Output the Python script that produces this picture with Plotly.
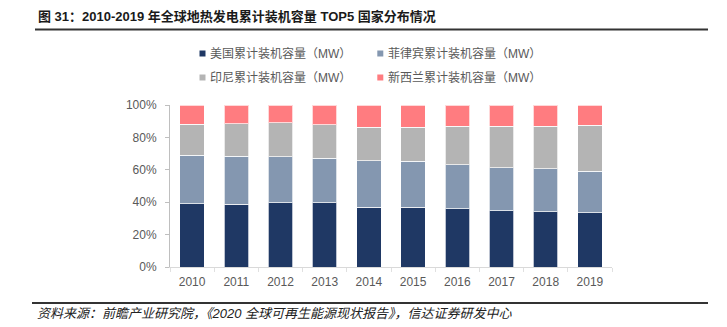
import plotly.graph_objects as go

# ---- data (share of cumulative installed capacity, %) ----
years = ["2010", "2011", "2012", "2013", "2014", "2015", "2016", "2017", "2018", "2019"]
usa = [39.0, 38.8, 39.8, 39.6, 36.9, 36.9, 35.9, 34.6, 34.2, 33.4]
phl = [30.1, 29.7, 28.2, 27.6, 28.7, 28.3, 27.2, 26.8, 26.4, 25.8]
idn = [19.1, 20.0, 21.1, 20.6, 20.8, 21.2, 23.7, 25.6, 26.4, 28.2]
nzl = [11.8, 11.5, 10.9, 12.2, 13.6, 13.6, 13.2, 13.0, 13.0, 12.6]
series_names = ["美国累计装机容量（MW）", "菲律宾累计装机容量（MW）",
                "印尼累计装机容量（MW）", "新西兰累计装机容量（MW）"]
y_tick_vals = [0, 20, 40, 60, 80, 100]
y_tick_text = ["0%", "20%", "40%", "60%", "80%", "100%"]
title_text = "图 31：2010-2019 年全球地热发电累计装机容量 TOP5 国家分布情况"
source_text = "资料来源：前瞻产业研究院，《2020 全球可再生能源现状报告》，信达证券研发中心"

# ---- style ----
colors = ["#1F3864", "#8497B0", "#B4B4B4", "#FF7C80"]
FONT = "Arial, Liberation Sans, Noto Sans CJK SC, sans-serif"
GRAY = "#595959"

W, H = 727, 327
L, R, T, B = 170, 115, 105, 60
pw, ph = W - L - R, H - T - B


def px(x):
    return (x - L) / pw


def py(y):
    return (H - B - y) / ph


fig = go.Figure()
for name, vals, col in zip(series_names, [usa, phl, idn, nzl], colors):
    fig.add_trace(go.Bar(
        x=years, y=vals, name=name, showlegend=False,
        marker=dict(color=col, line=dict(color="rgba(255,255,255,0.7)", width=1)),
    ))

shapes = []
annotations = []

# legend (manual, to match small square markers)
legend_pos = [(199.5, 53.5), (377.3, 53.5), (199.5, 77.5), (377.3, 77.5)]
sq = 6
for (lx, ly), name, col in zip(legend_pos, series_names, colors):
    shapes.append(dict(type="rect", xref="paper", yref="paper",
                       x0=px(lx), x1=px(lx + sq), y0=py(ly + sq / 2), y1=py(ly - sq / 2),
                       fillcolor=col, line=dict(width=0)))
    annotations.append(dict(xref="paper", yref="paper", x=px(lx + 8.5), y=py(ly),
                            xanchor="left", yanchor="middle", showarrow=False,
                            text=name, font=dict(family=FONT, size=12, color=GRAY)))

# title and separator lines
annotations.append(dict(xref="paper", yref="paper", x=px(36), y=py(16.5),
                        xanchor="left", yanchor="middle", showarrow=False,
                        text="<b>" + title_text + "</b>",
                        font=dict(family=FONT, size=13, color="#1a1a1a")))
shapes.append(dict(type="line", xref="paper", yref="paper",
                   x0=px(35), x1=px(708), y0=py(29.5), y1=py(29.5),
                   line=dict(color="#333333", width=2)))
shapes.append(dict(type="line", xref="paper", yref="paper",
                   x0=px(32), x1=px(708), y0=py(303), y1=py(303),
                   line=dict(color="#333333", width=2)))
annotations.append(dict(xref="paper", yref="paper", x=px(35), y=py(313.5),
                        xanchor="left", yanchor="middle", showarrow=False,
                        text="<i>" + source_text + "</i>",
                        font=dict(family=FONT, size=13, color="#222222")))

fig.update_layout(
    width=W, height=H,
    margin=dict(l=L, r=R, t=T, b=B, pad=0),
    paper_bgcolor="white", plot_bgcolor="white",
    barmode="stack", barnorm="percent", bargap=0.445,
    showlegend=False,
    font=dict(family=FONT, size=12, color=GRAY),
    shapes=shapes, annotations=annotations,
    xaxis=dict(
        type="category", showgrid=False, showline=True, linecolor="#d9d9d9", linewidth=1,
        ticks="outside", tickson="boundaries", ticklen=4, tickcolor="#e0e0e0",
        tickfont=dict(family=FONT, size=12, color=GRAY), ticklabelstandoff=4,
    ),
    yaxis=dict(
        range=[0, 100], tickvals=y_tick_vals, ticktext=y_tick_text,
        showgrid=False, zeroline=False, showline=True, linecolor="#bfbfbf", linewidth=1,
        ticks="outside", ticklen=4, tickcolor="#bfbfbf",
        tickfont=dict(family=FONT, size=12, color=GRAY), ticklabelstandoff=6,
    ),
)

fig.write_html("out.html")
